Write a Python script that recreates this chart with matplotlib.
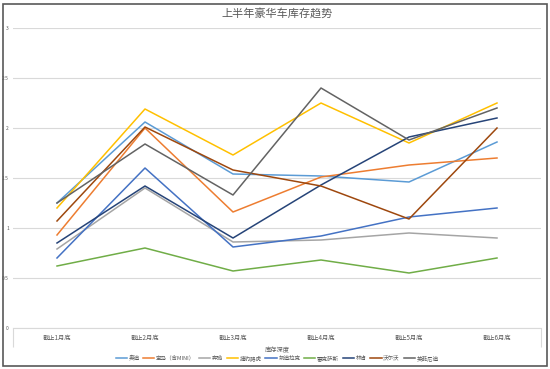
import matplotlib
matplotlib.use("Agg")
import matplotlib.pyplot as plt
from matplotlib.patches import Rectangle
import numpy as np

plt.rcParams['font.family'] = ['Noto Sans CJK SC', 'DejaVu Sans']

# 月份（类别）
months = ["截止1月底", "截止2月底", "截止3月底", "截止4月底", "截止5月底", "截止6月底"]

# 各品牌库存深度
brands = ["奥迪", "宝马（含MINI）", "奔驰", "捷豹路虎", "凯迪拉克", "雷克萨斯", "林肯", "沃尔沃", "英菲尼迪"]
audi     = [1.25, 2.06, 1.54, 1.52, 1.46, 1.86]
bmw      = [0.93, 2.00, 1.16, 1.51, 1.63, 1.70]
benz     = [0.79, 1.40, 0.86, 0.88, 0.95, 0.90]
jlr      = [1.20, 2.19, 1.73, 2.25, 1.85, 2.25]
cadillac = [0.70, 1.60, 0.81, 0.92, 1.11, 1.20]
lexus    = [0.62, 0.80, 0.57, 0.68, 0.55, 0.70]
lincoln  = [0.85, 1.42, 0.90, 1.43, 1.91, 2.10]
volvo    = [1.07, 2.01, 1.58, 1.42, 1.09, 2.00]
infiniti = [1.25, 1.84, 1.33, 2.40, 1.88, 2.20]

series = [audi, bmw, benz, jlr, cadillac, lexus, lincoln, volvo, infiniti]
colors = ["#5B9BD5", "#ED7D31", "#A5A5A5", "#FFC000", "#4472C4",
          "#70AD47", "#264478", "#9E480E", "#636363"]

fig = plt.figure(figsize=(5.5, 3.69), dpi=100)
ax = fig.add_axes([13/550, 41/369, 528/550, 300/369])

x = np.arange(len(months))
for vals, name, c in zip(series, brands, colors):
    ax.plot(x, vals, color=c, lw=1.1, label=name)

ax.set_xlim(-0.5, len(months) - 0.5)
ax.set_ylim(0, 3)
ax.set_yticks(np.arange(0, 3.01, 0.5))
ax.set_yticklabels(["0", "0.5", "1", "1.5", "2", "2.5", "3"])
ax.grid(axis='y', color='#D9D9D9', lw=0.8)
ax.set_axisbelow(True)
for s in ['top', 'right', 'left']:
    ax.spines[s].set_visible(False)
ax.spines['bottom'].set_color('#D9D9D9')

ax.set_xticks(x)
ax.set_xticklabels(months)
ax.set_xticks([-0.5, len(months) - 0.5], minor=True)
ax.tick_params(axis='x', which='major', length=0, labelsize=4.5, colors='#595959', pad=4)
ax.tick_params(axis='x', which='minor', length=14, color='#D9D9D9', width=0.8)
ax.tick_params(axis='y', length=0, labelsize=3.5, colors='#595959', pad=3)

ax.set_xlabel("库存深度", fontsize=4.5, color='#595959')
ax.xaxis.set_label_coords(0.5, -(346 - 328) / 300)
fig.text(277/550, 1 - 13/369, "上半年豪华车库存趋势", fontsize=8, color='#595959',
         ha='center', va='center')

ax.legend(loc='center', bbox_to_anchor=(0.5, -(358 - 328) / 300), ncol=9,
          frameon=False, fontsize=4, handlelength=2.0, columnspacing=0.7,
          handletextpad=0.3, labelcolor='#595959')

fig.add_artist(Rectangle((3/550, 3/369), 544/550, 362/369, transform=fig.transFigure,
                         fill=False, ec='#595959', lw=1.2))

fig.savefig("out.png", dpi=100)
